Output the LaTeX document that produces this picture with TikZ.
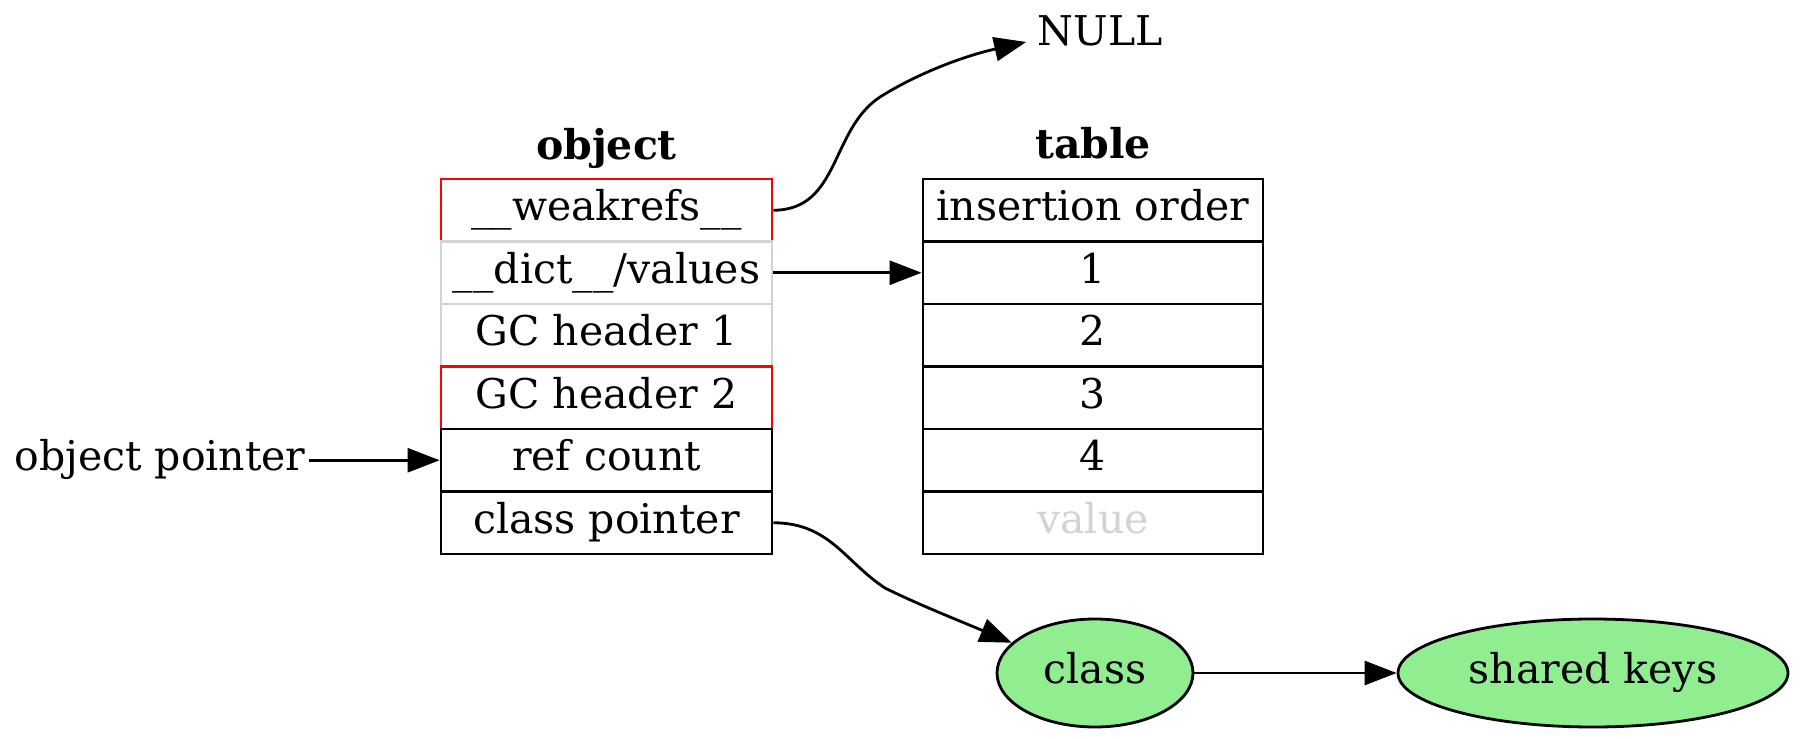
\documentclass[tikz,border=0pt]{standalone}
\usepackage{fontspec}
\setmainfont{DejaVu Serif}
\usetikzlibrary{shapes.geometric,arrows.meta}
\definecolor{gvgray}{HTML}{D3D3D3}
\definecolor{gvgreen}{HTML}{90EE90}
\begin{document}
\begin{tikzpicture}[x=0.5pt,y=-0.5pt, line width=1.4pt,
  every node/.style={font=\fontsize{20.5}{24}\selectfont, text height=15pt, text depth=4.5pt},
  objcell/.style={draw, rectangle, minimum width=165.5pt, minimum height=31.25pt, inner sep=0pt},
  tabcell/.style={draw, rectangle, minimum width=170pt, minimum height=31.25pt, inner sep=0pt},
  hdr/.style={font=\fontsize{20.5}{24}\selectfont\bfseries, anchor=base, inner sep=0pt},
  plain/.style={anchor=base, inner ysep=0pt},
  conn/.style={-{Triangle[length=16pt,width=12pt]}, line width=1.4pt},
  oval/.style={ellipse, draw, fill=gvgreen, inner sep=0pt, minimum height=54pt}]
\useasboundingbox (0,0) rectangle (1800,739);

% object table
\node[objcell, draw=red] (wr) at (606.5,210.25) {\_\_weakrefs\_\_};
\node[objcell, draw=gvgray] (dict) at (606.5,272.75) {\_\_dict\_\_/values};
\node[objcell, draw=gvgray] (gc1) at (606.5,335.25) {GC header 1};
\node[objcell, draw=red] (gc2) at (606.5,397.75) {GC header 2};
\node[objcell] (rc) at (606.5,460.25) {ref count};
\node[objcell] (cp) at (606.5,522.75) {class pointer};
\node[hdr] (objlbl) at (606.5,159) {object};

% table
\node[tabcell] (t0) at (1093,210.25) {insertion order};
\node[tabcell] (t1) at (1093,272.75) {1};
\node[tabcell] (t2) at (1093,335.25) {2};
\node[tabcell] (t3) at (1093,397.75) {3};
\node[tabcell] (t4) at (1093,460.25) {4};
\node[tabcell, text=gvgray] (t5) at (1093,522.75) {value};
\node[hdr] (tablbl) at (1093,158) {table};

% free labels
\node[plain, inner xsep=5pt] (null) at (1100,45) {NULL};
\node[plain, inner xsep=1pt] (op) at (160,470.75) {object pointer};

% ellipses
\node[oval, minimum width=98pt] (cls) at (1095,673) {class};
\node[oval, minimum width=195pt] (sk) at (1593,673) {shared keys};

% connectors
\draw[conn] (wr.east) .. controls (840,210) and (830,130) .. (880,97)
  .. controls (915,75) and (960,57) .. ([yshift=-3.75pt]null.west);
\draw[conn] (dict.east) -- (t1.west);
\draw[conn] (op.east) -- (rc.west);
\draw[conn] (cp.east) .. controls (830,523) and (845,562) .. (885,588)
  .. controls (915,603) and (955,619) .. (cls.160);
\draw[conn] (cls.east) -- (sk.west);
\end{tikzpicture}
\end{document}
